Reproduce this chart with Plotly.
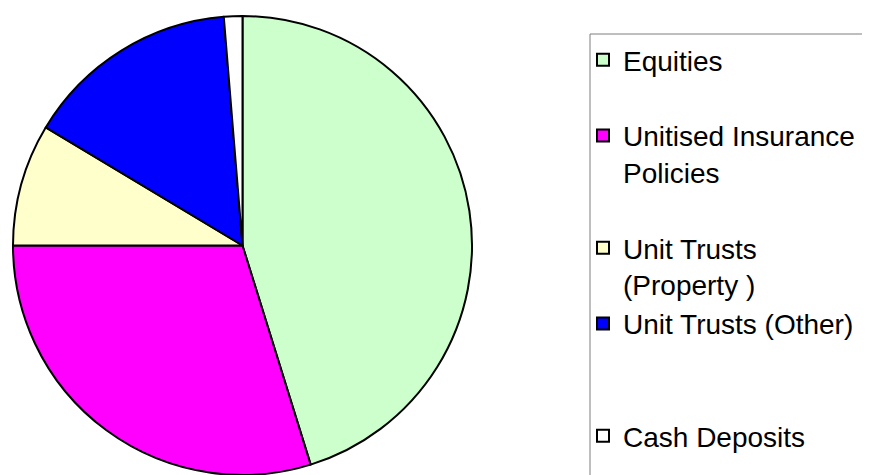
import plotly.graph_objects as go

# Portfolio split (percent of total)
labels = ["Equities", "Unitised Insurance Policies", "Unit Trusts (Property )",
          "Unit Trusts (Other)", "Cash Deposits"]
values = [45.2, 29.8, 8.6, 15.1, 1.3]
colors = ["#CCFFCC", "#FF00FF", "#FFFFCC", "#0000FF", "#FFFFFF"]

# legend text, wrapped like the original (blank lines space the entries out)
legend_text = ["Equities<br> ",
               "Unitised Insurance<br>Policies<br> ",
               "Unit Trusts<br>(Property )",
               "Unit Trusts (Other)<br> <br> ",
               "Cash Deposits"]

# page body has an 8px margin, so the figure is 8px smaller than the window
W, H = 862, 467
TOP = 8
plot_h = H - TOP

pie = go.Pie(
    labels=legend_text,
    values=values,
    sort=False,
    direction="clockwise",
    rotation=0,
    textinfo="none",
    marker=dict(colors=colors, line=dict(color="black", width=2)),
    domain=dict(x=[0, 469 / W], y=[0, 1]),
)

fig = go.Figure(data=[pie])

# legend frame: left and top edges only show, the rest runs off the page
fig.add_shape(type="rect", xref="paper", yref="paper",
              x0=582 / W, x1=1.05, y0=-0.1, y1=(H - 26) / plot_h,
              line=dict(color="#7f7f7f", width=1), layer="below")

fig.update_layout(
    width=W,
    height=H,
    margin=dict(l=0, r=0, t=TOP, b=0, autoexpand=False),
    paper_bgcolor="white",
    plot_bgcolor="white",
    font=dict(family="Liberation Sans, Arial", color="black"),
    legend=dict(
        x=575 / W,
        y=(H - 27) / plot_h,
        xanchor="left",
        yanchor="top",
        valign="top",
        borderwidth=0,
        bgcolor="rgba(0,0,0,0)",
        font=dict(size=28, family="Liberation Sans, Arial", color="black"),
    ),
)

fig.write_html("out.html")
